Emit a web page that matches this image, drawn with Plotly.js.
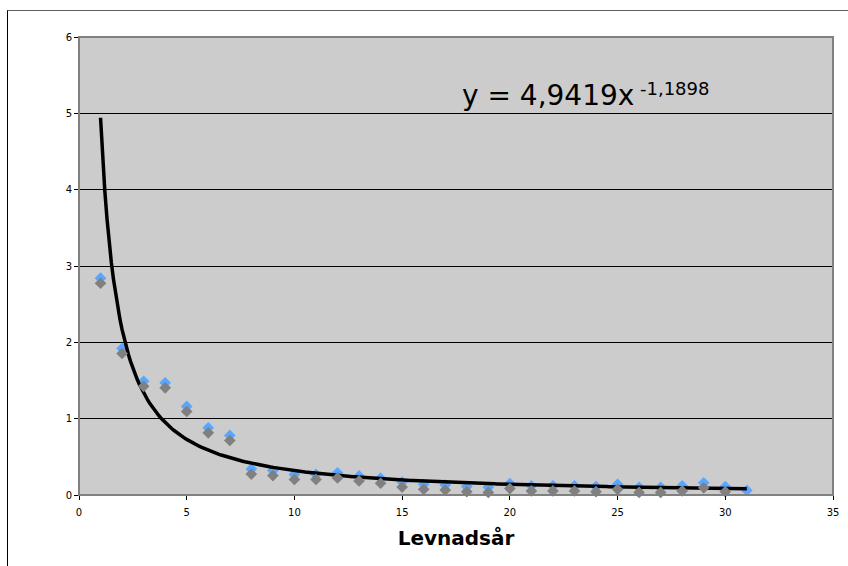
<!DOCTYPE html>
<html>
<head>
<meta charset="utf-8">
<script src="https://cdn.plot.ly/plotly-3.0.1.min.js"></script>
<style>
html,body{margin:0;padding:0;background:#fff;}
#frame{position:absolute;left:7px;top:10px;width:1000px;height:700px;border-left:1px solid #000;border-top:1px solid #606060;pointer-events:none;z-index:10;}
#chart{position:absolute;left:0;top:0;width:848px;height:566px;}
</style>
</head>
<body>
<div id="chart"></div>
<div id="frame"></div>
<script>
// Data
const levnadsar = [1,2,3,4,5,6,7,8,9,10,11,12,13,14,15,16,17,18,19,20,21,22,23,24,25,26,27,28,29,30,31];
const values = [2.84,1.92,1.49,1.47,1.16,0.88,0.78,0.34,0.32,0.27,0.27,0.29,0.25,0.22,0.17,0.14,0.13,0.11,0.10,0.15,0.12,0.12,0.12,0.11,0.14,0.10,0.10,0.12,0.16,0.11,0.06];
// Power trendline shown on the chart: y = 4,9419 x^-1,1898
const trendA = 4.9419;
const trendB = -1.1898;
const trendStart = 1, trendEnd = 31;
const eqMain = 'y = 4,9419x';
const eqExp = '-1,1898';

const trendX = [], trendY = [];
for (let i = 0; i <= 300; i++) {
  const x = trendStart + (trendEnd - trendStart) * i / 300;
  trendX.push(x);
  trendY.push(trendA * Math.pow(x, trendB));
}

const font = 'DejaVu Sans, Verdana, sans-serif';

const traces = [
  { // drop shadow of the markers
    x: levnadsar, y: values, xaxis: 'x', yaxis: 'y2', type: 'scatter', mode: 'markers',
    marker: {symbol: 'diamond', size: 9, color: '#808080'}, cliponaxis: false, hoverinfo: 'skip'
  },
  {
    x: levnadsar, y: values, type: 'scatter', mode: 'markers',
    marker: {symbol: 'diamond', size: 9, color: '#5aa6ff'}, cliponaxis: false
  },
  {
    x: trendX, y: trendY, type: 'scatter', mode: 'lines',
    line: {color: '#000', width: 3.5}, cliponaxis: false
  }
];

const layout = {
  width: 848, height: 566,
  margin: {l: 79, r: 15, t: 37, b: 71},
  paper_bgcolor: '#ffffff',
  plot_bgcolor: '#cccccc',
  showlegend: false,
  font: {family: font, color: '#000', size: 10},
  xaxis: {
    range: [0, 35], dtick: 5, tick0: 0,
    ticks: 'outside', ticklen: 4, tickcolor: '#000', tickwidth: 1,
    ticklabelstandoff: 4,
    showgrid: false, zeroline: false,
    showline: true, linecolor: '#000', linewidth: 1,
    tickfont: {family: font, size: 10, color: '#000'},
    title: {text: 'Levnadsår', font: {family: font, size: 20, color: '#000', weight: 'bold'}, standoff: 13}
  },
  yaxis: {
    range: [0, 6], dtick: 1, tick0: 0,
    ticks: 'outside', ticklen: 4, tickcolor: '#000', tickwidth: 1,
    showgrid: true, gridcolor: '#000', gridwidth: 1,
    zeroline: false, showline: true, linecolor: '#000', linewidth: 1,
    tickfont: {family: font, size: 10, color: '#000'}
  },
  yaxis2: {
    overlaying: 'y', range: [0.066, 6.066], visible: false, fixedrange: true
  },
  shapes: [
    {type: 'rect', xref: 'paper', yref: 'paper', x0: 0, x1: 1, y0: 0, y1: 1,
     line: {color: '#808080', width: 2}, layer: 'above'}
  ],
  annotations: [
    {
      xref: 'paper', yref: 'y', x: 0.5053, y: 5.234, xanchor: 'left', yanchor: 'middle',
      text: eqMain, showarrow: false,
      font: {family: font, size: 28, color: '#000'}
    },
    {
      xref: 'paper', yref: 'y', x: 0.7414, y: 5.325, xanchor: 'left', yanchor: 'middle',
      text: eqExp, showarrow: false,
      font: {family: font, size: 18, color: '#000'}
    }
  ]
};

Plotly.newPlot('chart', traces, layout, {displayModeBar: false, staticPlot: true});
</script>
</body>
</html>
